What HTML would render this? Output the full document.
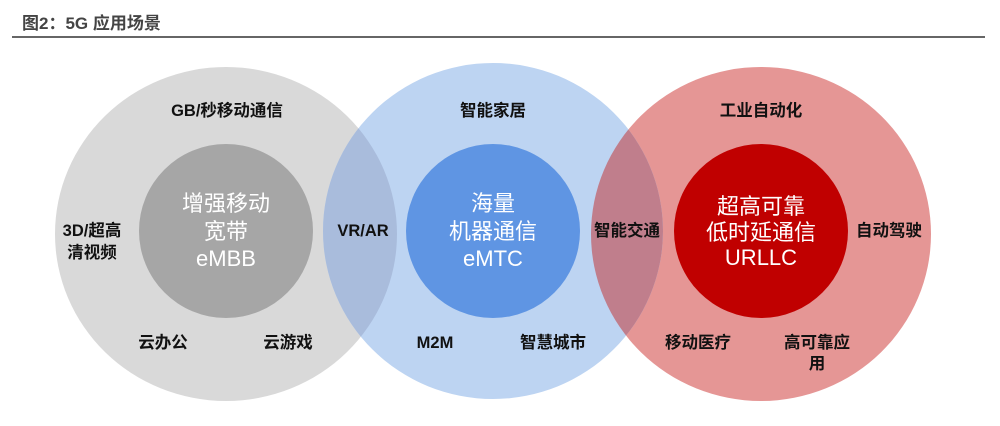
<!DOCTYPE html>
<html><head><meta charset="utf-8"><style>
body{margin:0;background:#fff;width:1000px;height:421px;overflow:hidden}
svg text{font-family:"Liberation Sans","Noto Sans CJK SC",sans-serif}
.l{font-size:16.5px;font-weight:bold;fill:#111;text-anchor:middle}
.c{font-size:22px;fill:#fff;text-anchor:middle}
</style></head><body>
<svg width="1000" height="421" xmlns="http://www.w3.org/2000/svg">
<defs>
<clipPath id="g"><ellipse cx="226" cy="234" rx="171" ry="167"/></clipPath>
<clipPath id="r"><ellipse cx="761" cy="234" rx="170" ry="167"/></clipPath>
</defs>
<text x="22" y="29" style="font-size:17px;font-weight:bold;fill:#444">图2：5G 应用场景</text>
<rect x="12" y="36" width="973" height="2" fill="#666"/>
<ellipse cx="226" cy="234" rx="171" ry="167" fill="#d9d9d9"/>
<ellipse cx="761" cy="234" rx="170" ry="167" fill="#e59695"/>
<ellipse cx="493" cy="231" rx="170" ry="168" fill="#bdd4f2"/>
<ellipse cx="493" cy="231" rx="170" ry="168" fill="#a9bcdc" clip-path="url(#g)"/>
<ellipse cx="493" cy="231" rx="170" ry="168" fill="#c07e8c" clip-path="url(#r)"/>
<ellipse cx="226" cy="231" rx="87" ry="87" fill="#a6a6a6"/>
<ellipse cx="493" cy="231" rx="87" ry="87" fill="#5f95e3"/>
<ellipse cx="761" cy="231" rx="87" ry="87" fill="#c00000"/>
<text class="l" x="227" y="116">GB/秒移动通信</text>
<text class="l" x="493" y="116">智能家居</text>
<text class="l" x="761" y="116">工业自动化</text>
<text class="l" x="92" y="236">3D/超高</text>
<text class="l" x="92" y="258">清视频</text>
<text class="l" x="363" y="236">VR/AR</text>
<text class="l" x="627" y="236">智能交通</text>
<text class="l" x="889" y="236">自动驾驶</text>
<text class="l" x="163" y="348">云办公</text>
<text class="l" x="288" y="348">云游戏</text>
<text class="l" x="435" y="348">M2M</text>
<text class="l" x="553" y="348">智慧城市</text>
<text class="l" x="698" y="348">移动医疗</text>
<text class="l" x="817" y="348">高可靠应</text>
<text class="l" x="817" y="369">用</text>
<text class="c" x="226" y="211">增强移动</text>
<text class="c" x="226" y="239">宽带</text>
<text class="c" x="226" y="266">eMBB</text>
<text class="c" x="493" y="211">海量</text>
<text class="c" x="493" y="239">机器通信</text>
<text class="c" x="493" y="266">eMTC</text>
<text class="c" x="761" y="214">超高可靠</text>
<text class="c" x="761" y="240">低时延通信</text>
<text class="c" x="761" y="265">URLLC</text>
</svg>
</body></html>
